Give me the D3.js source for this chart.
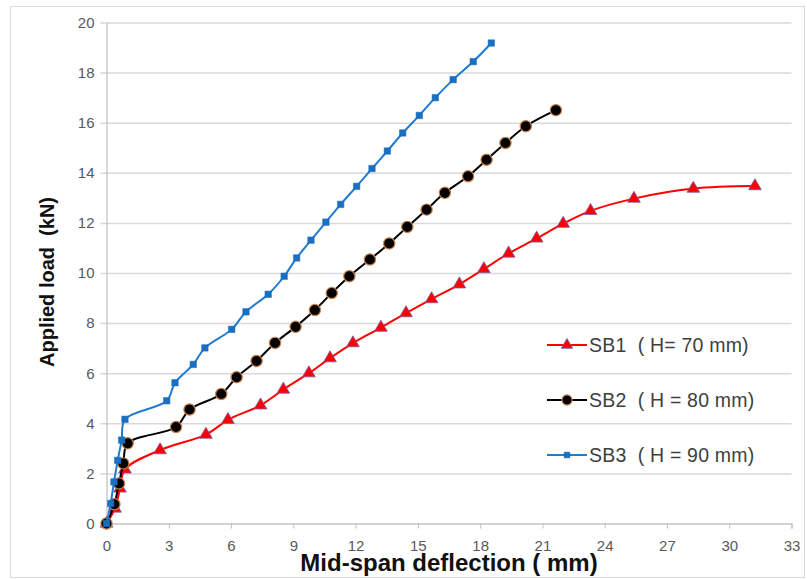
<!DOCTYPE html>
<html>
<head>
<meta charset="utf-8">
<script src="https://cdn.jsdelivr.net/npm/d3@7"></script>
<style>
  body { margin: 0; background: #fff; }
  text { font-family: "Liberation Sans", Arial, sans-serif; }
</style>
</head>
<body>
<div id="chart"></div>
<script>
// deflection (mm) and load (kN)
const sb1X = [0, 0.41, 0.65, 0.89, 2.58, 4.79, 5.85, 7.42, 8.52, 9.75, 10.77, 11.87, 13.22, 14.43, 15.66, 17.0, 18.18, 19.37, 20.72, 22.0, 23.32, 25.41, 28.27, 31.24];
const sb1Y = [0, 0.6, 1.4, 2.16, 2.93, 3.55, 4.14, 4.72, 5.35, 6.0, 6.6, 7.2, 7.82, 8.4, 8.96, 9.55, 10.16, 10.78, 11.38, 11.97, 12.48, 12.97, 13.37, 13.47];

const sb2X = [0, 0.38, 0.6, 0.81, 1.02, 3.35, 4.0, 5.53, 6.27, 7.23, 8.12, 9.11, 10.04, 10.85, 11.7, 12.69, 13.62, 14.49, 15.42, 16.3, 17.42, 18.31, 19.22, 20.2, 21.65];
const sb2Y = [0, 0.77, 1.6, 2.4, 3.2, 3.85, 4.55, 5.17, 5.84, 6.49, 7.21, 7.85, 8.52, 9.2, 9.87, 10.54, 11.18, 11.84, 12.53, 13.2, 13.86, 14.52, 15.19, 15.86, 16.5];

const sb3X = [0, 0.2, 0.36, 0.54, 0.73, 0.89, 2.9, 3.3, 4.18, 4.74, 6.03, 6.72, 7.79, 8.56, 9.16, 9.85, 10.57, 11.28, 12.05, 12.79, 13.53, 14.27, 15.07, 15.84, 16.7, 17.67, 18.54];
const sb3Y = [0, 0.8, 1.66, 2.52, 3.33, 4.16, 4.9, 5.62, 6.35, 7.01, 7.75, 8.45, 9.15, 9.87, 10.6, 11.31, 12.03, 12.74, 13.46, 14.17, 14.87, 15.59, 16.29, 17.0, 17.72, 18.44, 19.18];

const xTicks = [0, 3, 6, 9, 12, 15, 18, 21, 24, 27, 30, 33];
const yTicks = [0, 2, 4, 6, 8, 10, 12, 14, 16, 18, 20];

const seriesNames = ['SB1  ( H= 70 mm)', 'SB2  ( H = 80 mm)', 'SB3  ( H = 90 mm)'];

const W = 807;
const H = 579;
const plotLeft = 106.5;
const plotRight = 791.5;
const plotTop = 22.5;
const plotBottom = 523.5;

const svg = d3.select('#chart')
  .append('svg')
  .attr('width', W)
  .attr('height', H);

svg.append('rect')
  .attr('x', 10.5)
  .attr('y', 6.5)
  .attr('width', 794)
  .attr('height', 571)
  .attr('fill', '#fff')
  .attr('stroke', '#d9d9d9');

const x = d3.scaleLinear().domain([0, 33]).range([plotLeft, plotRight]);
const y = d3.scaleLinear().domain([0, 20]).range([plotBottom, plotTop]);

// gridlines (they stick out a little to the left, like tick marks)
svg.append('g')
  .attr('transform', `translate(${plotLeft - 6},0)`)
  .call(d3.axisLeft(y).tickValues(yTicks).tickSize(-(plotRight - plotLeft + 6)).tickFormat(''))
  .call((g) => g.select('.domain').remove())
  .call((g) => g.selectAll('line')
    .attr('stroke', '#d9d9d9')
    .attr('stroke-width', 1.5));

// y axis
const yAxis = svg.append('g')
  .attr('transform', `translate(${plotLeft},0)`)
  .call(d3.axisLeft(y).tickValues(yTicks).tickSize(0).tickPadding(12));
yAxis.select('.domain').attr('stroke', '#bfbfbf').attr('stroke-width', 1.2);
yAxis.selectAll('text')
  .attr('fill', '#595959')
  .style('font-size', '15px');

// x axis
const xAxis = svg.append('g')
  .attr('transform', `translate(0,${plotBottom})`)
  .call(d3.axisBottom(x).tickValues(xTicks).tickSize(5).tickPadding(12));
xAxis.select('.domain').attr('stroke', '#bfbfbf').attr('stroke-width', 1.2);
xAxis.selectAll('line').attr('stroke', '#bfbfbf');
xAxis.selectAll('text')
  .attr('fill', '#595959')
  .style('font-size', '15px');

svg.append('text')
  .attr('x', 449)
  .attr('y', 571)
  .attr('text-anchor', 'middle')
  .style('font-size', '24px')
  .style('font-weight', 'bold')
  .attr('fill', '#111')
  .text('Mid-span deflection ( mm)');

svg.append('text')
  .attr('transform', 'translate(54,282) rotate(-90)')
  .attr('text-anchor', 'middle')
  .style('font-size', '20px')
  .style('font-weight', 'bold')
  .style('white-space', 'pre')
  .attr('fill', '#111')
  .text('Applied load  (kN)');

const styles = [
  { line: '#ff0000', fill: '#ff0000', stroke: '#7a5aa8', shape: d3.symbolTriangle, size: 70, sw: 0.8 },
  { line: '#000000', fill: '#000000', stroke: '#c8804a', shape: d3.symbolCircle, size: 100, sw: 1.2 },
  { line: '#1f7bd0', fill: '#1a6fc0', stroke: '#1a6fc0', shape: d3.symbolSquare, size: 42, sw: 0.5 },
];

const series = [
  sb1X.map((d, i) => [d, sb1Y[i]]),
  sb2X.map((d, i) => [d, sb2Y[i]]),
  sb3X.map((d, i) => [d, sb3Y[i]]),
];

const lineGen = d3.line()
  .x((d) => x(d[0]))
  .y((d) => y(d[1]))
  .curve(d3.curveCatmullRom.alpha(0.5));

series.forEach((data, k) => {
  const st = styles[k];
  svg.append('path')
    .datum(data)
    .attr('d', lineGen)
    .attr('fill', 'none')
    .attr('stroke', st.line)
    .attr('stroke-width', 2);

  svg.append('g')
    .selectAll('path')
    .data(data)
    .enter()
    .append('path')
    .attr('transform', (d) => `translate(${x(d[0])},${y(d[1])})`)
    .attr('d', d3.symbol().type(st.shape).size(st.size))
    .attr('fill', st.fill)
    .attr('stroke', st.stroke)
    .attr('stroke-width', st.sw);
});

// legend
const legendY = [345, 400, 455];
seriesNames.forEach((name, k) => {
  const st = styles[k];
  const g = svg.append('g').attr('transform', `translate(547,${legendY[k]})`);
  g.append('line')
    .attr('x1', 0).attr('x2', 40)
    .attr('stroke', st.line)
    .attr('stroke-width', 2);
  g.append('path')
    .attr('transform', 'translate(20,0)')
    .attr('d', d3.symbol().type(st.shape).size(st.size * 0.8))
    .attr('fill', st.fill)
    .attr('stroke', st.stroke)
    .attr('stroke-width', st.sw);
  g.append('text')
    .attr('x', 42)
    .attr('y', 6.5)
    .attr('fill', '#404040')
    .style('font-size', '19.5px')
    .style('letter-spacing', '0.2px')
    .style('white-space', 'pre')
    .text(name);
});
</script>
</body>
</html>
